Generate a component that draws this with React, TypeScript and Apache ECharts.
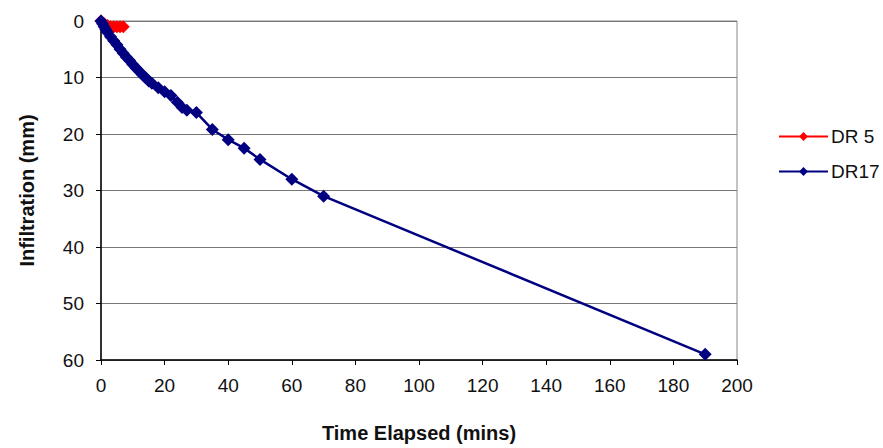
import React, { useEffect, useRef } from "react";
import * as echarts from "echarts";

const xTicks = [0, 20, 40, 60, 80, 100, 120, 140, 160, 180, 200];
const yTicks = [0, 10, 20, 30, 40, 50, 60];

const dr5Time = [0, 1, 2, 3, 4, 5, 6, 7];
const dr5Infil = [0, 0.5, 0.8, 1, 1, 1, 1, 1];

const dr17Time = [0, 0.5, 1, 1.5, 2, 3, 4, 5, 6, 7, 8, 9, 10, 11, 12, 13, 14, 15, 16, 18, 20, 22, 24, 25.5, 27, 30, 35, 40, 45, 50, 60, 70, 190];
const dr17Infil = [0, 0.5, 1, 1.5, 2, 2.8, 3.5, 4.2, 5, 5.7, 6.4, 7, 7.7, 8.3, 8.9, 9.5, 10, 10.6, 11, 11.8, 12.5, 13.2, 14.4, 15.3, 15.8, 16.2, 19.2, 21, 22.5, 24.5, 28, 31, 59];

const pairs = (xs: number[], ys: number[]) => xs.map((x, i) => [x, ys[i]]);

export default function App() {
  const ref = useRef<HTMLDivElement>(null);
  useEffect(() => {
    const chart = echarts.init(ref.current!, undefined, { renderer: "svg" });
    const font = "Liberation Sans, Arial, sans-serif";
    chart.setOption({
      animation: false,
      backgroundColor: "#ffffff",
      textStyle: { fontFamily: font },
      grid: { left: 101, right: 146, top: 21, bottom: 81, show: true, borderColor: "#888", borderWidth: 1 },
      xAxis: {
        type: "value",
        min: xTicks[0],
        max: xTicks[xTicks.length - 1],
        interval: 20,
        name: "Time Elapsed (mins)",
        nameLocation: "middle",
        nameGap: 63,
        nameTextStyle: { fontSize: 20, fontWeight: "bold", color: "#111", fontFamily: font },
        axisLine: { onZero: false, lineStyle: { color: "#000", width: 1.5 } },
        axisTick: { show: true, length: 5, lineStyle: { color: "#000" } },
        axisLabel: { fontSize: 19, color: "#111", margin: 16, fontFamily: font },
        splitLine: { show: false },
      },
      yAxis: {
        type: "value",
        inverse: true,
        min: yTicks[0],
        max: yTicks[yTicks.length - 1],
        interval: 10,
        name: "Infiltration (mm)",
        nameLocation: "middle",
        nameGap: 64,
        nameRotate: 90,
        nameTextStyle: { fontSize: 20, fontWeight: "bold", color: "#111", fontFamily: font },
        axisLine: { onZero: false, lineStyle: { color: "#000", width: 1.5 } },
        axisTick: { show: true, length: 5, inside: false, lineStyle: { color: "#000" } },
        axisLabel: { fontSize: 19, color: "#111", margin: 17, fontFamily: font },
        splitLine: { show: true, lineStyle: { color: "#777", width: 1 } },
      },
      legend: {
        orient: "vertical",
        left: 773,
        top: 122,
        itemGap: 16,
        itemWidth: 49,
        itemHeight: 11,
        textStyle: { fontSize: 19, color: "#111", fontFamily: font, padding: [0, 0, 0, -2] },
        data: ["DR 5", "DR17"],
      },
      series: [
        {
          name: "DR 5",
          type: "line",
          data: pairs(dr5Time, dr5Infil),
          symbol: "diamond",
          symbolSize: 13,
          lineStyle: { color: "#ff0000", width: 2.5 },
          itemStyle: { color: "#ff0000" },
        },
        {
          name: "DR17",
          type: "line",
          data: pairs(dr17Time, dr17Infil),
          symbol: "diamond",
          symbolSize: 13,
          lineStyle: { color: "#000080", width: 2.5 },
          itemStyle: { color: "#000080" },
          z: 3,
        },
      ],
    });
    return () => chart.dispose();
  }, []);
  return <div ref={ref} style={{ width: 883, height: 448, position: "absolute", left: 0, top: 0 }} />;
}
